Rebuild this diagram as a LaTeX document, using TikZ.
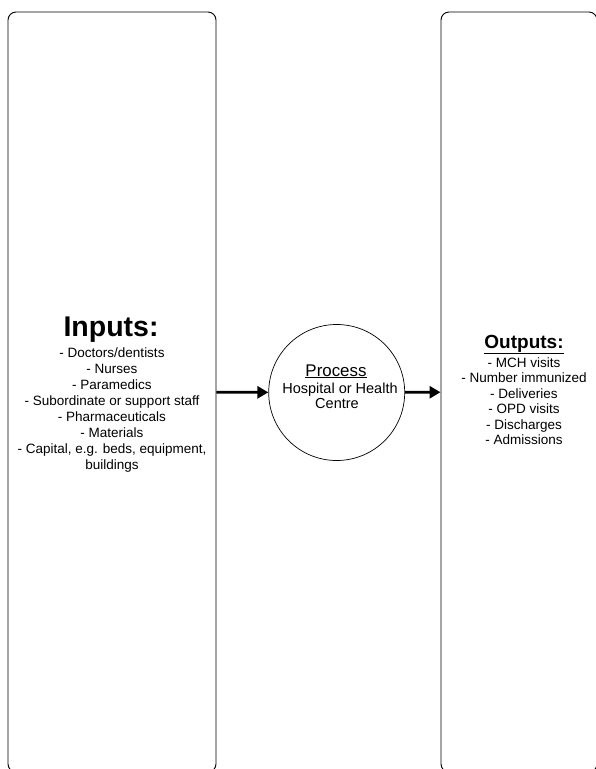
\documentclass[tikz,border=0pt]{standalone}
\usepackage{fontspec}
\setmainfont{Liberation Sans}
\usetikzlibrary{arrows.meta}
\begin{document}
\begin{tikzpicture}[x=1pt, y=-1pt, line join=round, line cap=round,
    >={Triangle[length=11pt,width=12pt]},
    panel/.style={draw, line width=0.9pt, rounded corners=8pt, minimum height=760pt, inner sep=0pt},
    entry/.style={anchor=base, inner sep=0pt, font=\fontsize{13.5}{15}\selectfont},
    flow/.style={->, line width=2.8pt, line cap=butt}]
\useasboundingbox (0,0) rectangle (596,769);
\clip (0,0) rectangle (596,769);
% boxes and circle
\node[panel, minimum width=208pt] (inbox) at (112,392) {};
\node[panel, minimum width=156pt] (outbox) at (519,392) {};
\node[draw, circle, line width=0.7pt, minimum size=136pt, inner sep=0pt] (process) at (336.7,392.5) {};
% inputs
\node[entry, font=\fontsize{28.5}{30}\selectfont\bfseries] (intitle) at (111,336) {Inputs:};
\foreach \t [count=\i from 0] in {- Doctors/dentists, - Nurses, - Paramedics,
    - Subordinate or support staff, - Pharmaceuticals, - Materials,
    {- Capital, e.g. beds, equipment,}, buildings}
  \node[entry] (in-\i) at (112,357+16*\i) {\t};
% outputs
\node[entry, font=\fontsize{19}{20}\selectfont\bfseries] (outtitle) at (524,348) {\underline{Outputs:}};
\foreach \t [count=\i from 0] in {- MCH visits, - Number immunized, - Deliveries,
    - OPD visits, - Discharges, - Admissions}
  \node[entry] (out-\i) at (524,367+15.5*\i) {\t};
% process
\node[entry, font=\fontsize{16.9}{18}\selectfont] (proctitle) at (336,376)
  {\underline{Process}\rlap{\fontsize{5}{6}\selectfont\color{gray}:}};
\node[entry, font=\fontsize{14.5}{16}\selectfont] (proc-0) at (340,393) {Hospital or Health};
\node[entry, font=\fontsize{14.5}{16}\selectfont] (proc-1) at (337,408) {Centre};
% arrows
\draw[flow] (inbox) -- (process);
\draw[flow] (process) -- (outbox);
\end{tikzpicture}
\end{document}
